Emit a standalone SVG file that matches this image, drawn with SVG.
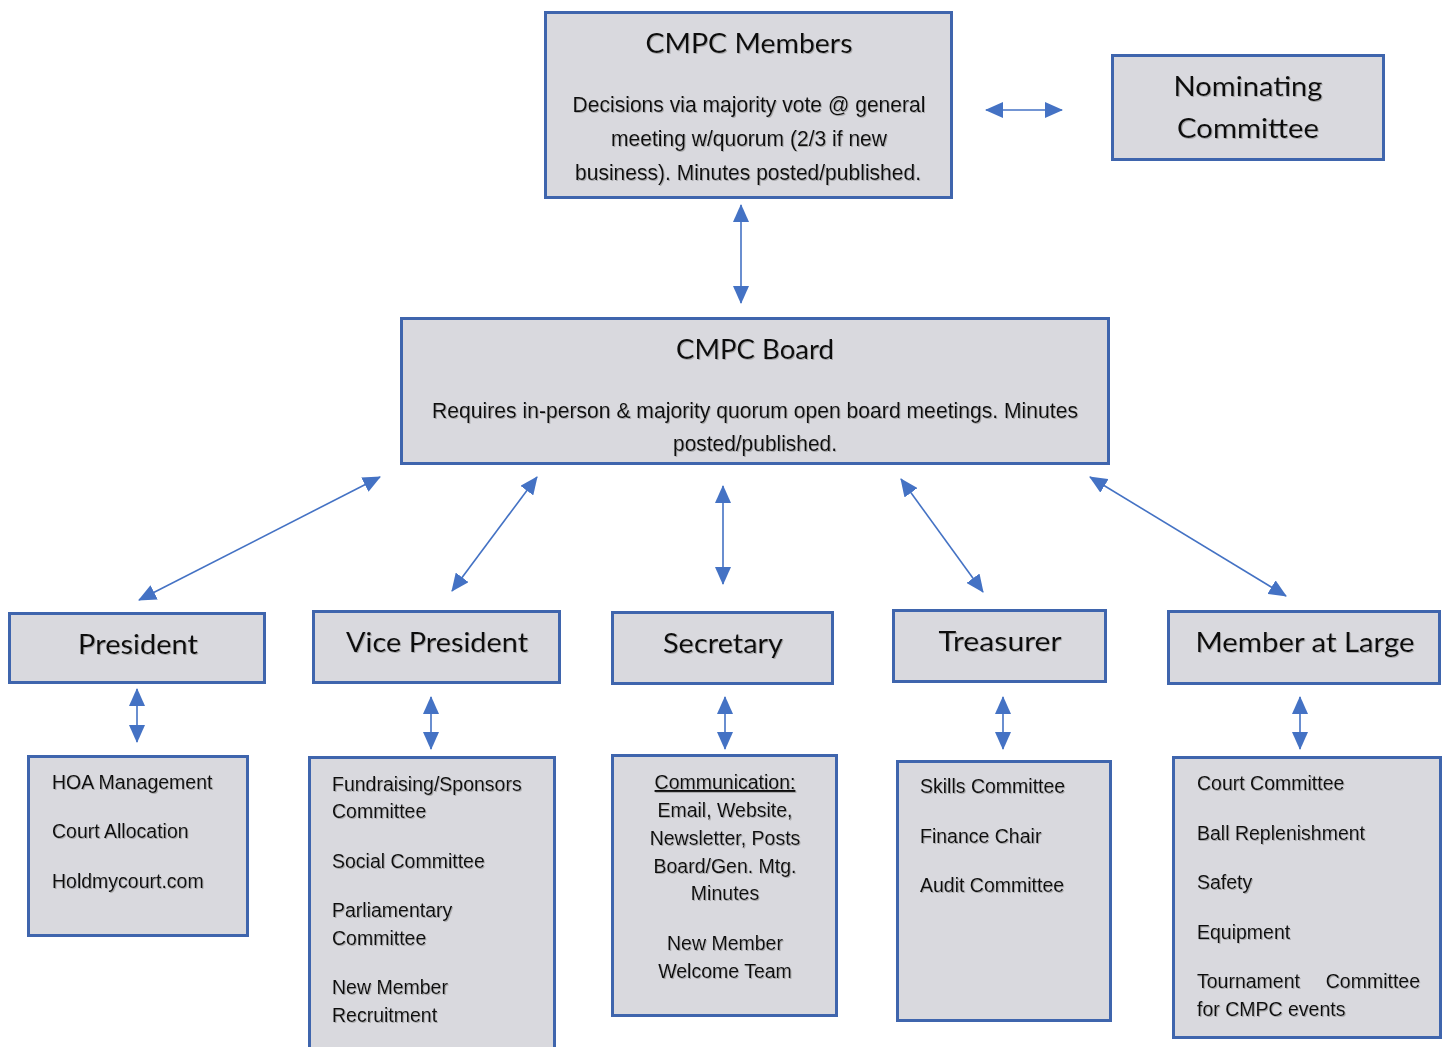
<svg xmlns="http://www.w3.org/2000/svg" width="1443" height="1047" viewBox="0 0 1443 1047">
<style>
.box{fill:#d9d9de;stroke:#3f65ad;stroke-width:3}
.t{font-family:Lato,"Open Sans",sans-serif;font-size:27px;fill:#111;text-anchor:middle}
.b{font-family:"Liberation Sans",Arial,sans-serif;font-size:22px;fill:#111;text-anchor:middle}
.s{font-family:"Liberation Sans",Arial,sans-serif;font-size:19.5px;fill:#111}
.c{text-anchor:middle}
.con line{stroke:#4472c4;stroke-width:1.6;fill:none;marker-start:url(#ah);marker-end:url(#ah)}
text{filter:url(#sh)}
</style>
<defs>
<marker id="ah" markerUnits="userSpaceOnUse" markerWidth="18" markerHeight="16" viewBox="0 0 18 16" refX="17" refY="8" orient="auto-start-reverse">
<path d="M0,0 L18,8 L0,16 Z" fill="#4472c4"/>
</marker>
<filter id="sh" x="-5%" y="-20%" width="110%" height="140%">
<feDropShadow dx="1" dy="1" stdDeviation="0.6" flood-color="#888" flood-opacity="0.6"/>
</filter>
</defs>
<rect width="1443" height="1047" fill="#fff"/>

<g id="members">
<rect class="box" x="545.5" y="12.5" width="406" height="185"/>
<text class="t" x="749" y="53" textLength="207" lengthAdjust="spacingAndGlyphs">CMPC Members</text>
<text class="b" x="749" y="112" textLength="353" lengthAdjust="spacingAndGlyphs">Decisions via majority vote @ general</text>
<text class="b" x="749" y="146" textLength="276" lengthAdjust="spacingAndGlyphs">meeting w/quorum (2/3 if new</text>
<text class="b" x="748" y="180" textLength="346" lengthAdjust="spacingAndGlyphs">business). Minutes posted/published.</text>
</g>

<g id="nominating">
<rect class="box" x="1112.5" y="55.5" width="271" height="104"/>
<text class="t" x="1248" y="96" textLength="149" lengthAdjust="spacingAndGlyphs">Nominating</text>
<text class="t" x="1248" y="138" textLength="142" lengthAdjust="spacingAndGlyphs">Committee</text>
</g>

<g id="board">
<rect class="box" x="401.5" y="318.5" width="707" height="145"/>
<text class="t" x="755" y="359" textLength="158" lengthAdjust="spacingAndGlyphs">CMPC Board</text>
<text class="b" x="755" y="418" textLength="646" lengthAdjust="spacingAndGlyphs">Requires in-person &amp; majority quorum open board meetings. Minutes</text>
<text class="b" x="755" y="451" textLength="164" lengthAdjust="spacingAndGlyphs">posted/published.</text>
</g>

<g id="president">
<rect class="box" x="9.5" y="613.5" width="255" height="69"/>
<text class="t" x="138" y="654" textLength="120" lengthAdjust="spacingAndGlyphs">President</text>
</g>
<g id="vicepresident">
<rect class="box" x="313.5" y="611.5" width="246" height="71"/>
<text class="t" x="437" y="652" textLength="182" lengthAdjust="spacingAndGlyphs">Vice President</text>
</g>
<g id="secretary">
<rect class="box" x="612.5" y="612.5" width="220" height="71"/>
<text class="t" x="723" y="653" textLength="120" lengthAdjust="spacingAndGlyphs">Secretary</text>
</g>
<g id="treasurer">
<rect class="box" x="893.5" y="610.5" width="212" height="71"/>
<text class="t" x="1000" y="651" textLength="123" lengthAdjust="spacingAndGlyphs">Treasurer</text>
</g>
<g id="memberatlarge">
<rect class="box" x="1168.5" y="611.5" width="271" height="72"/>
<text class="t" x="1305" y="652" textLength="219" lengthAdjust="spacingAndGlyphs">Member at Large</text>
</g>

<g id="president-duties">
<rect class="box" x="28.5" y="756.5" width="219" height="179"/>
<text class="s" x="52" y="789">HOA Management</text>
<text class="s" x="52" y="838">Court Allocation</text>
<text class="s" x="52" y="888">Holdmycourt.com</text>
</g>
<g id="vp-duties">
<rect class="box" x="309.5" y="757.5" width="245" height="300"/>
<text class="s" x="332" y="791">Fundraising/Sponsors</text>
<text class="s" x="332" y="818">Committee</text>
<text class="s" x="332" y="868">Social Committee</text>
<text class="s" x="332" y="917">Parliamentary</text>
<text class="s" x="332" y="945">Committee</text>
<text class="s" x="332" y="994">New Member</text>
<text class="s" x="332" y="1022">Recruitment</text>
</g>
<g id="secretary-duties">
<rect class="box" x="612.5" y="755.5" width="224" height="260"/>
<text class="s c" x="725" y="789" text-decoration="underline">Communication:</text>
<text class="s c" x="725" y="817">Email, Website,</text>
<text class="s c" x="725" y="845">Newsletter, Posts</text>
<text class="s c" x="725" y="873">Board/Gen. Mtg.</text>
<text class="s c" x="725" y="900">Minutes</text>
<text class="s c" x="725" y="950">New Member</text>
<text class="s c" x="725" y="978">Welcome Team</text>
</g>
<g id="treasurer-duties">
<rect class="box" x="897.5" y="761.5" width="213" height="259"/>
<text class="s" x="920" y="793">Skills Committee</text>
<text class="s" x="920" y="843">Finance Chair</text>
<text class="s" x="920" y="892">Audit Committee</text>
</g>
<g id="mal-duties">
<rect class="box" x="1173.5" y="757.5" width="267" height="280"/>
<text class="s" x="1197" y="790">Court Committee</text>
<text class="s" x="1197" y="840">Ball Replenishment</text>
<text class="s" x="1197" y="889">Safety</text>
<text class="s" x="1197" y="939">Equipment</text>
<text class="s" x="1197" y="988">Tournament</text>
<text class="s" x="1420" y="988" text-anchor="end">Committee</text>
<text class="s" x="1197" y="1016">for CMPC events</text>
</g>

<g id="connectors" class="con">
<line x1="986" y1="110" x2="1062" y2="110"/>
<line x1="741" y1="205" x2="741" y2="303"/>
<line x1="380" y1="477" x2="139" y2="600"/>
<line x1="537" y1="477" x2="452" y2="591"/>
<line x1="723" y1="486" x2="723" y2="584"/>
<line x1="901" y1="479" x2="983" y2="592"/>
<line x1="1090" y1="477" x2="1286" y2="596"/>
<line x1="137" y1="689" x2="137" y2="742"/>
<line x1="431" y1="697" x2="431" y2="749"/>
<line x1="725" y1="697" x2="725" y2="749"/>
<line x1="1003" y1="697" x2="1003" y2="749"/>
<line x1="1300" y1="697" x2="1300" y2="749"/>
</g>
</svg>
